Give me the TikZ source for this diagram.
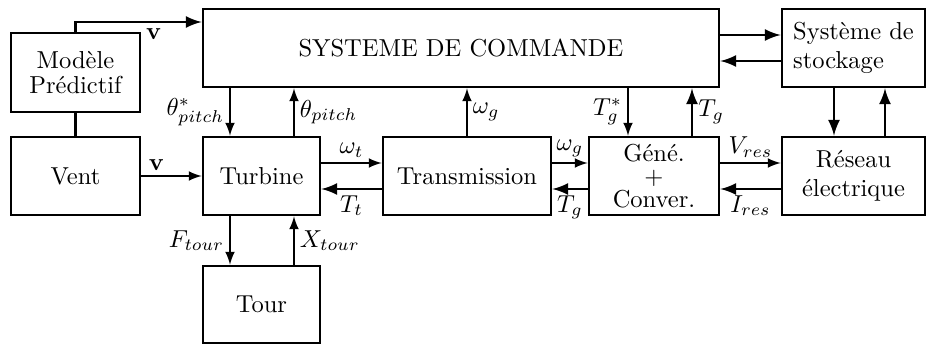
\documentclass[tikz,border=0pt]{standalone}
\usepackage{amssymb, amsmath}
\usepackage{tikz}
\newcommand{\px}{0.408pt}

\begin{document}
\begin{tikzpicture}[x=\px, y=\px,
    bloc/.style={draw, line width=1.1pt, minimum height=78*\px, inner sep=1pt, align=center},
    sig/.style={->, >=latex, line width=0.8pt},
    sigb/.style={->, >=latex, line width=1.2pt},
    lbl/.style={inner sep=2pt}]
  \useasboundingbox (0, 0) rectangle (927, 344);

  % blocs
  \node[bloc, minimum width=129*\px, minimum height=79*\px] (pred) at (75.5, 271.5) {Mod\`ele\\[-2pt]Pr\'edictif};
  \node[bloc, minimum width=129*\px] (vent) at (75.5, 168) {Vent};
  \node[bloc, minimum width=516*\px] (cmd) at (461, 296) {SYSTEME DE COMMANDE};
  \node[bloc, minimum width=143*\px, align=left] (stock) at (853.5, 296) {Syst\`eme de\\stockage};
  \node[bloc, minimum width=117*\px] (turb) at (261.5, 168) {Turbine};
  \node[bloc, minimum width=168*\px] (trans) at (467, 168) {Transmission};
  \node[bloc, minimum width=130*\px] (gen) at (654, 168) {G\'en\'e.\\[-2.5pt]$+$\\[-2.5pt]Conver.};
  \node[bloc, minimum width=143*\px] (res) at (853.5, 168) {R\'eseau\\\'electrique};
  \node[bloc, minimum width=117*\px, minimum height=77*\px] (tour) at (261.5, 39.5) {Tour};

  % vent
  \draw[sigb] (pred.north) |- ([yshift=26*\px]cmd.west) node[lbl, below, pos=0.81] {$\mathbf{v}$};
  \draw[line width=1.2pt] (pred.south) -- (vent.north);
  \draw[sig] (vent) -- (turb) node[lbl, above, pos=0.25] {$\mathbf{v}$};

  % commande
  \draw[sig] ([xshift=-31.5*\px]turb.north |- cmd.south) -- ([xshift=-31.5*\px]turb.north) node[lbl, left, midway] {$\theta^*_{pitch}$};
  \draw[sig] ([xshift=32.5*\px]turb.north) -- ([xshift=32.5*\px]turb.north |- cmd.south) node[lbl, right, midway] {$\theta_{pitch}$};
  \draw[sig] (trans.north) -- (trans.north |- cmd.south) node[lbl, right, midway] {$\omega_g$};
  \draw[sig] ([xshift=-26*\px]gen.north |- cmd.south) -- ([xshift=-26*\px]gen.north) node[lbl, left, midway] {$T^*_g$};
  \draw[sigb] ([xshift=38*\px]gen.north) -- ([xshift=38*\px]gen.north |- cmd.south) node[lbl, right, midway] {$T_g$};

  % stockage
  \draw[sigb] ([yshift=13*\px]cmd.east) -- ([yshift=13*\px]stock.west);
  \draw[sigb] ([yshift=-13*\px]stock.west) -- ([yshift=-13*\px]cmd.east);
  \draw[sigb] ([xshift=-19.5*\px]stock.south) -- ([xshift=-19.5*\px]res.north);
  \draw[sigb] ([xshift=31.5*\px]res.north) -- ([xshift=31.5*\px]stock.south);

  % chaine de conversion
  \draw[sig] ([yshift=13*\px]turb.east) -- ([yshift=13*\px]trans.west) node[lbl, above, midway] {$\omega_t$};
  \draw[sigb] ([yshift=-13*\px]trans.west) -- ([yshift=-13*\px]turb.east) node[lbl, below, midway] {$T_t$};
  \draw[sig] ([yshift=13*\px]trans.east) -- ([yshift=13*\px]gen.west) node[lbl, above, midway] {$\omega_g$};
  \draw[sigb] ([yshift=-13*\px]gen.west) -- ([yshift=-13*\px]trans.east) node[lbl, below, midway] {$T_g$};
  \draw[sig] ([yshift=13*\px]gen.east) -- ([yshift=13*\px]res.west) node[lbl, above, midway] {$V_{res}$};
  \draw[sigb] ([yshift=-13*\px]res.west) -- ([yshift=-13*\px]gen.east) node[lbl, below, midway] {$I_{res}$};

  % tour
  \draw[sig] ([xshift=-31.5*\px]turb.south) -- ([xshift=-31.5*\px]tour.north) node[lbl, left, midway] {$F_{tour}$};
  \draw[sig] ([xshift=32.5*\px]tour.north) -- ([xshift=32.5*\px]turb.south) node[lbl, right, midway] {$X_{tour}$};
\end{tikzpicture}
\end{document}
